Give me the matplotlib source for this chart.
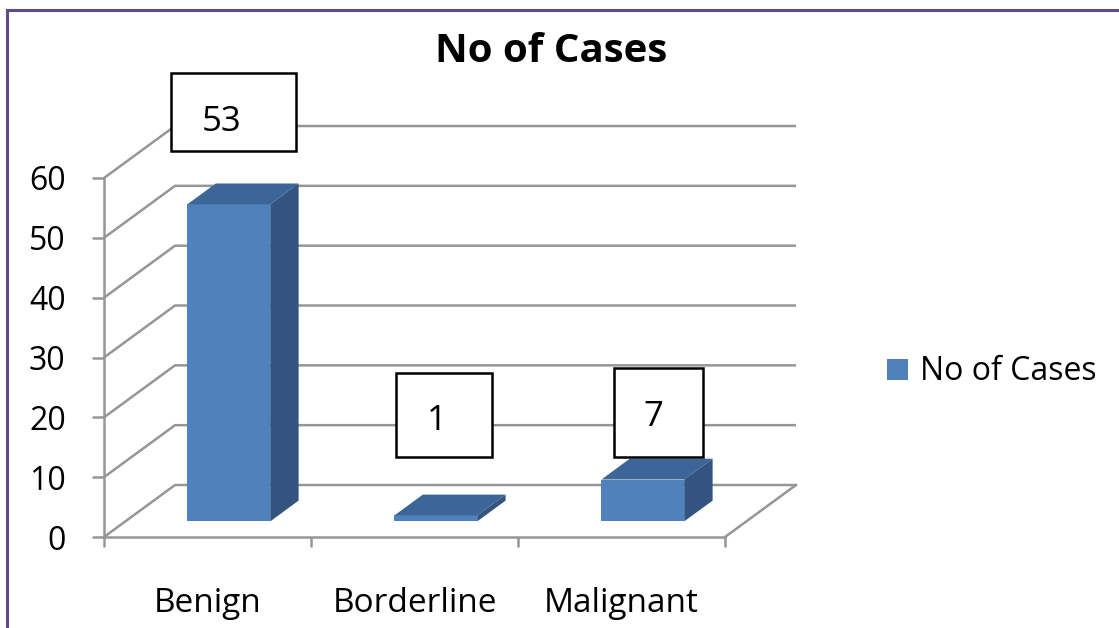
import matplotlib
matplotlib.use("Agg")
import matplotlib.pyplot as plt
from matplotlib.patches import Polygon, Rectangle
from matplotlib.lines import Line2D

plt.rcParams['font.family'] = ['Open Sans', 'DejaVu Sans']

# ---- data ----
categories = ["Benign", "Borderline", "Malignant"]
values = [53, 1, 7]
series_name = "No of Cases"
title = "No of Cases"
y_ticks = [0, 10, 20, 30, 40, 50, 60]

# ---- layout / style ----
W, H = 1119, 628
DX, DY = 0.343, 8.69          # depth offset (category units, value units)
F_FRONT, F_BACK = 0.30, 0.70  # bar depth position
BAR_W = 0.40
label_dx = [0.024, 0.039, 0.075]     # label box offset from bar center
label_y = [71.0, 20.4, 20.8]         # label box center (value units)
label_w = [0.604, 0.464, 0.430]
label_h = [13.0, 14.0, 14.9]
text_dx = [-0.060, -0.034, -0.022]   # text offset inside box
text_dy = [-0.9, -0.3, 0.0]

c_front = '#4F81BD'
c_top = '#3C6698'
c_side = '#32547E'
c_grid = '#969696'
c_border = '#5F4B8B'

fig = plt.figure(figsize=(W / 100, H / 100), dpi=100)
ax = fig.add_axes([104 / W, (H - 537) / H, 621 / W, 359 / H])
ax.set_xlim(0, 3)
ax.set_ylim(0, 60)
ax.patch.set_visible(False)

for s in ['top', 'right']:
    ax.spines[s].set_visible(False)
for s in ['left', 'bottom']:
    ax.spines[s].set_color(c_grid)
    ax.spines[s].set_linewidth(1.8)

ax.set_yticks(y_ticks)
ax.set_yticklabels([str(t) for t in y_ticks])
ax.tick_params(axis='y', length=8.6, width=1.8, color=c_grid, pad=19, labelsize=23)
ax.set_xticks(range(len(categories) + 1))
ax.set_xticklabels([])
ax.tick_params(axis='x', length=7.5, width=1.8, color=c_grid)

# gridlines on side + back wall
for v in y_ticks:
    ax.plot([0, DX, 3 + DX], [v, v + DY, v + DY], color=c_grid, lw=1.8,
            clip_on=False, zorder=1, solid_capstyle='butt')
# floor right edge
ax.plot([3 + DX, 3], [DY, 0], color=c_grid, lw=1.8, clip_on=False, zorder=1)

# bars
ddx = (F_BACK - F_FRONT) * DX
ddy = (F_BACK - F_FRONT) * DY
for i, v in enumerate(values):
    x0 = i + 0.5 - BAR_W / 2 + F_FRONT * DX
    yb = F_FRONT * DY
    front = Rectangle((x0, yb), BAR_W, v, facecolor=c_front, edgecolor='none',
                      zorder=3, clip_on=False)
    top = Polygon([(x0, yb + v), (x0 + BAR_W, yb + v),
                   (x0 + BAR_W + ddx, yb + v + ddy), (x0 + ddx, yb + v + ddy)],
                  closed=True, facecolor=c_top, edgecolor='none', zorder=3, clip_on=False)
    side = Polygon([(x0 + BAR_W, yb), (x0 + BAR_W + ddx, yb + ddy),
                    (x0 + BAR_W + ddx, yb + v + ddy), (x0 + BAR_W, yb + v)],
                   closed=True, facecolor=c_side, edgecolor='none', zorder=3, clip_on=False)
    for p in (front, top, side):
        ax.add_patch(p)
    # data label box
    cx = i + 0.5 + F_FRONT * DX + label_dx[i]
    cy = label_y[i]
    box = Rectangle((cx - label_w[i] / 2, cy - label_h[i] / 2), label_w[i], label_h[i],
                    facecolor='white', edgecolor='black', lw=1.8, zorder=4, clip_on=False)
    ax.add_patch(box)
    ax.text(cx + text_dx[i], cy + text_dy[i], str(v), ha='center', va='center_baseline',
            fontsize=25, zorder=5, clip_on=False)

# category labels
for i, c in enumerate(categories):
    ax.text(i + 0.5, -12.6, c, ha='center', va='baseline', fontsize=24, clip_on=False)

# title
fig.text(551 / W, 1 - 62 / H, title, ha='center', va='baseline', fontsize=29,
         fontweight='bold')

# legend
h = Rectangle((0, 0), 1, 1, facecolor=c_front, edgecolor='none')
fig.legend([h], [series_name], loc='center left',
           bbox_to_anchor=(887 / W, 1 - 372 / H), frameon=False, fontsize=23,
           handlelength=0.66, handleheight=0.66, handletextpad=0.36,
           borderpad=0, borderaxespad=0)

# outer border (top and left)
fig.add_artist(Line2D([7 / W, 1], [1 - 10 / H, 1 - 10 / H], transform=fig.transFigure,
                      color=c_border, lw=2.2))
fig.add_artist(Line2D([7 / W, 7 / W], [0, 1 - 10 / H], transform=fig.transFigure,
                      color=c_border, lw=2.2))

fig.savefig("out.png", dpi=100)
